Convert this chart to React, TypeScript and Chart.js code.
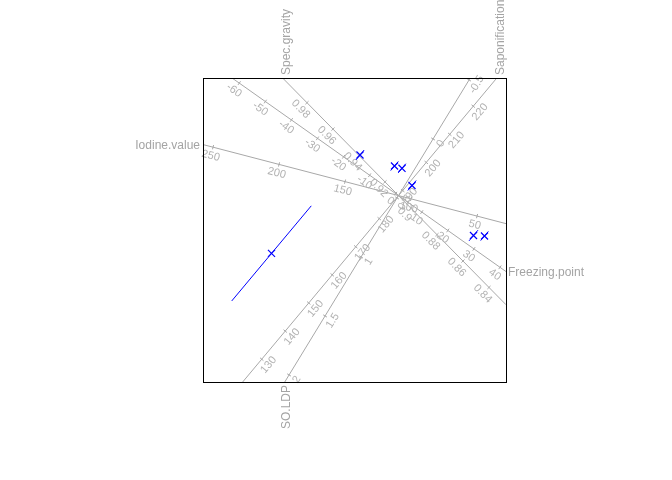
import React, { useEffect, useRef } from "react";
import { Chart, registerables } from "chart.js";
Chart.register(...registerables);

// ---- Calibrated biplot axes ----
const axisNames = ["Iodine.value", "Freezing.point", "Spec.gravity", "Saponification", "SO.LDP"];
// variable value found at the biplot origin
const axisCentre = [109.5, 1.07, 0.9096, 188.2, 0.48];
// biplot displacement for one unit of the variable
const axisStepX = [-0.0132, 0.02607, -13.0, 0.0235, -0.72];
const axisStepY = [0.003445, -0.01842, 13.195, 0.02811, -1.18];

const iodineTicks = [50, 100, 150, 200, 250];
const freezingTicks = [-60, -50, -40, -30, -20, -10, 0, 10, 20, 30, 40];
const specGravityTicks = [0.84, 0.86, 0.88, 0.9, 0.92, 0.94, 0.96, 0.98];
const saponificationTicks = [130, 140, 150, 160, 170, 180, 190, 200, 210, 220];
const soLdpTicks = [-0.5, 0, 0.5, 1, 1.5, 2];

const iodineLabels = ["50", "100", "150", "200", "250"];
const freezingLabels = ["-60", "-50", "-40", "-30", "-20", "-10", "0", "10", "20", "30", "40"];
const specGravityLabels = ["0.84", "0.86", "0.88", "0.9", "0.92", "0.94", "0.96", "0.98"];
const saponificationLabels = ["130", "140", "150", "160", "170", "180", "190", "200", "210", "220"];
const soLdpLabels = ["-0.5", "0", "0.5", "1", "1.5", "2"];

const axisTicks = [iodineTicks, freezingTicks, specGravityTicks, saponificationTicks, soLdpTicks];
const axisLabels = [iodineLabels, freezingLabels, specGravityLabels, saponificationLabels, soLdpLabels];

// ---- Samples (biplot coordinates) ----
const sampleX = [-0.385, -0.04, 0.035, 0.135, 0.75, 0.86, -1.27];
const sampleY = [0.406, 0.296, 0.273, 0.101, -0.399, -0.404, -0.578];
const sampleSpread = [0.065, 0.06, 0.06, 0.065, 0.07, 0.06, 0.62];

const X_MIN = -1.955, X_MAX = 1.075, Y_MIN = -1.864, Y_MAX = 1.176;

const LINE_GREY = "#a8a8a8";
const TICK_TEXT = "#b2b2b2";
const TITLE_TEXT = "#a4a4a4";
const BLUE = "#0000ff";
const FONT_FAMILY = '"Liberation Sans", Arial, sans-serif';

function tRange(j: number): [number, number] {
  const ux = axisStepX[j], uy = axisStepY[j];
  const ax = ux > 0 ? [X_MIN / ux, X_MAX / ux] : [X_MAX / ux, X_MIN / ux];
  const ay = uy > 0 ? [Y_MIN / uy, Y_MAX / uy] : [Y_MAX / uy, Y_MIN / uy];
  return [Math.max(ax[0], ay[0]), Math.min(ax[1], ay[1])];
}

function pixelAngle(chart: any, j: number): number {
  const xs = chart.scales.x, ys = chart.scales.y;
  let dx = xs.getPixelForValue(axisStepX[j]) - xs.getPixelForValue(0);
  let dy = ys.getPixelForValue(axisStepY[j]) - ys.getPixelForValue(0);
  if (dx < 0) { dx = -dx; dy = -dy; }
  return Math.atan2(dy, dx);
}

const labelPlugin = {
  id: "biplotLabels",
  beforeDatasetsDraw(chart: any) { chart.$labelsDone = false; },
  beforeDatasetDraw(chart: any, args: any) {
    const ds = chart.data.datasets[args.index];
    if (ds.role !== "sample" || chart.$labelsDone) return;
    chart.$labelsDone = true;
    const ctx = chart.ctx;
    const xs = chart.scales.x, ys = chart.scales.y;
    ctx.save();
    ctx.font = "11px " + FONT_FAMILY;
    ctx.fillStyle = TICK_TEXT;
    ctx.textAlign = "center";
    ctx.textBaseline = "middle";
    axisTicks.forEach((ticks, j) => {
      const th = pixelAngle(chart, j);
      const nx = -Math.sin(th), ny = Math.cos(th);
      ticks.forEach((v, k) => {
        const px = xs.getPixelForValue((v - axisCentre[j]) * axisStepX[j]);
        const py = ys.getPixelForValue((v - axisCentre[j]) * axisStepY[j]);
        ctx.save();
        ctx.translate(px + 9 * nx, py + 9 * ny);
        ctx.rotate(th);
        ctx.fillText(axisLabels[j][k], 0, 0);
        ctx.restore();
      });
    });
    ctx.restore();
  },
  afterDraw(chart: any) {
    const ctx = chart.ctx;
    const xs = chart.scales.x, ys = chart.scales.y;
    const a = chart.chartArea;
    ctx.save();
    ctx.strokeStyle = "#000";
    ctx.lineWidth = 1;
    ctx.strokeRect(Math.round(a.left) + 0.5, Math.round(a.top) + 0.5, Math.round(a.right - a.left), Math.round(a.bottom - a.top));
    ctx.font = "12px " + FONT_FAMILY;
    ctx.fillStyle = TITLE_TEXT;
    ctx.textBaseline = "middle";
    axisNames.forEach((name, j) => {
      const [, hi] = tRange(j);
      const px = xs.getPixelForValue(hi * axisStepX[j]);
      const py = ys.getPixelForValue(hi * axisStepY[j]);
      ctx.save();
      if (Math.abs(px - a.left) < 1) {
        ctx.textAlign = "right";
        ctx.fillText(name, a.left - 3, py + 1.5);
      } else if (Math.abs(px - a.right) < 1) {
        ctx.textAlign = "left";
        ctx.fillText(name, a.right + 2, py + 1.5);
      } else if (Math.abs(py - a.top) < 1) {
        ctx.translate(px + 4, a.top - 3);
        ctx.rotate(-Math.PI / 2);
        ctx.textAlign = "left";
        ctx.fillText(name, 0, 0);
      } else {
        ctx.translate(px + 2, a.bottom + 3);
        ctx.rotate(-Math.PI / 2);
        ctx.textAlign = "right";
        ctx.fillText(name, 0, 0);
      }
      ctx.restore();
    });
    ctx.restore();
  },
};

export default function App() {
  const ref = useRef<HTMLCanvasElement | null>(null);
  useEffect(() => {
    if (!ref.current) return;
    const datasets: any[] = [];

    // samples (top)
    datasets.push({
      type: "scatter",
      role: "sample",
      order: 0,
      data: sampleX.map((x, i) => ({ x, y: sampleY[i] })),
      pointStyle: "crossRot",
      pointRadius: 5,
      borderColor: BLUE,
      backgroundColor: BLUE,
      borderWidth: 1.2,
    });

    // sample spread segments, parallel to Saponification axis
    const sl = Math.hypot(axisStepX[3], axisStepY[3]);
    const dirX = axisStepX[3] / sl, dirY = axisStepY[3] / sl;
    sampleX.forEach((x, i) => {
      const h = sampleSpread[i];
      datasets.push({
        type: "line",
        role: "sample",
        order: 1,
        data: [
          { x: x - h * dirX, y: sampleY[i] - h * dirY },
          { x: x + h * dirX, y: sampleY[i] + h * dirY },
        ],
        borderColor: BLUE,
        borderWidth: 1,
        pointRadius: 0,
        fill: false,
      });
    });

    // tick marks
    axisTicks.forEach((ticks, j) => {
      datasets.push({
        type: "scatter",
        role: "axis",
        order: 2,
        data: ticks.map((v) => ({
          x: (v - axisCentre[j]) * axisStepX[j],
          y: (v - axisCentre[j]) * axisStepY[j],
        })),
        pointStyle: "line",
        pointRadius: 2.2,
        borderColor: LINE_GREY,
        borderWidth: 1,
        rotation: (c: any) => (pixelAngle(c.chart, j) * 180) / Math.PI + 90,
      });
    });

    // axis lines
    axisNames.forEach((_, j) => {
      const [lo, hi] = tRange(j);
      datasets.push({
        type: "line",
        role: "axis",
        order: 3,
        data: [
          { x: lo * axisStepX[j], y: lo * axisStepY[j] },
          { x: hi * axisStepX[j], y: hi * axisStepY[j] },
        ],
        borderColor: LINE_GREY,
        borderWidth: 1,
        pointRadius: 0,
        fill: false,
      });
    });

    const chart = new Chart(ref.current, {
      type: "scatter",
      data: { datasets },
      options: {
        responsive: false,
        animation: false,
        events: [],
        layout: { padding: { left: 203, top: 78, right: 672 - 506, bottom: 480 - 382 } },
        scales: {
          x: { type: "linear", display: false, min: X_MIN, max: X_MAX },
          y: { type: "linear", display: false, min: Y_MIN, max: Y_MAX },
        },
        plugins: { legend: { display: false }, tooltip: { enabled: false } },
      },
      plugins: [labelPlugin],
    } as any);
    return () => chart.destroy();
  }, []);

  return (
    <div style={{ position: "absolute", left: 0, top: 0, width: 672, height: 480, background: "#fff" }}>
      <canvas ref={ref} width={672} height={480} style={{ width: 672, height: 480, display: "block" }} />
    </div>
  );
}
